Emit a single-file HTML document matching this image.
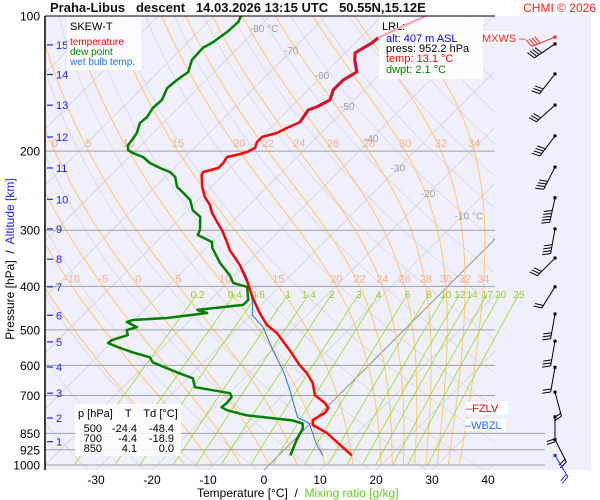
<!DOCTYPE html>
<html><head><meta charset="utf-8"><style>
body{margin:0;background:#fff;width:600px;height:500px;overflow:hidden;font-family:"Liberation Sans",sans-serif}
svg{display:block}
</style></head><body>
<svg id="chart" width="600" height="500" viewBox="0 0 600 500" xmlns="http://www.w3.org/2000/svg" font-family="Liberation Sans, sans-serif">
<defs>
<clipPath id="cp"><rect x="45" y="16" width="450" height="454"/></clipPath>
<clipPath id="cpw"><rect x="45" y="16" width="500" height="454"/></clipPath>
</defs>
<rect x="45" y="16" width="546" height="454" fill="#f0f0fc"/>
<g id="bg"></g>
<g id="labels"></g>
<g>
<rect x="67" y="17" width="74" height="53" fill="#fff" opacity="0.85"/>
<text x="70" y="30" font-size="11" fill="#000">SKEW-T</text>
<text x="70" y="45" font-size="10" fill="#ff0000">temperature</text>
<text x="70" y="55" font-size="10" fill="#008000">dew point</text>
<text x="70" y="65" font-size="10" fill="#2070ff">wet bulb temp.</text>
</g>
<g>
<rect x="379" y="17" width="104" height="62" fill="#fff" opacity="0.9"/>
<text x="382" y="30" font-size="11" fill="#000">LRL:</text>
<text x="386" y="42" font-size="11" fill="#0000ff">alt: 407 m ASL</text>
<text x="386" y="52" font-size="11" fill="#000">press: 952.2 hPa</text>
<text x="386" y="62" font-size="11" fill="#ff0000">temp: 13.1 °C</text>
<text x="386" y="73" font-size="11" fill="#008000">dwpt: 2.1 °C</text>
</g>
<g><rect x="481" y="31" width="33" height="12" fill="#fff"/><text x="482" y="42" font-size="11" fill="#ff2020">MXWS –</text></g>
<g><rect x="466" y="402" width="42" height="13" fill="#fff"/><text x="466" y="412" font-size="11" fill="#ff0000">–FZLV</text></g>
<g><rect x="465" y="419" width="41" height="12" fill="#fff"/><text x="465" y="429" font-size="11" fill="#2070ff">–WBZL</text></g>
<g font-size="11" fill="#000">
<rect x="75" y="404" width="106" height="52" fill="#fff" opacity="0.85"/>
<text x="78" y="417" xml:space="preserve">p [hPa]    T    Td [°C]</text>
<text x="102" y="432" text-anchor="end">500</text><text x="137" y="432" text-anchor="end">-24.4</text><text x="174" y="432" text-anchor="end">-48.4</text>
<text x="102" y="442" text-anchor="end">700</text><text x="137" y="442" text-anchor="end">-4.4</text><text x="174" y="442" text-anchor="end">-18.9</text>
<text x="102" y="452" text-anchor="end">850</text><text x="137" y="452" text-anchor="end">4.1</text><text x="174" y="452" text-anchor="end">0.0</text>
</g>
<g id="series"></g>
<g id="barbs"></g>
<line x1="45" y1="16" x2="495" y2="16" stroke="#000" stroke-width="1"/>
<line x1="45" y1="16" x2="45" y2="470" stroke="#000" stroke-width="1.5"/>
<text x="50" y="12" font-size="13" font-weight="bold" fill="#111" xml:space="preserve">Praha-Libus   descent   14.03.2026 13:15 UTC   50.55N,15.12E</text>
<text x="596" y="12" font-size="12" fill="#ff2020" text-anchor="end">CHMI © 2026</text>
<text transform="translate(14,259) rotate(-90)" font-size="12" text-anchor="middle" xml:space="preserve"><tspan fill="#000">Pressure [hPa]  /  </tspan><tspan fill="#2020ff">Altitude [km]</tspan></text>
<text x="197" y="497" font-size="12" xml:space="preserve"><tspan fill="#000">Temperature [°C]  /  </tspan><tspan fill="#66cc22">Mixing ratio [g/kg]</tspan></text>
</svg>
<script>
const pressTicks=[100,200,300,400,500,600,700,850,925,1000];
const tempTicks=[-30,-20,-10,0,10,20,30,40];
const kmTicks=[1,2,3,4,5,6,7,8,9,10,11,12,13,14,15];
const kmPress=[887,786,692,605,532,464,401,348,298,256,218,186,158,135,116];
const isoT=[-110,-100,-90,-80,-70,-60,-50,-40,-30,-20,-10,0,10,20,30,40];
const isoLabels=[-80,-70,-60,-50,-40,-30,-20,-10];
const isoLabelP=[106.4,119.1,135.5,158.6,186.9,217.4,248.1,278.0];
const thetaK=[230,240,250,260,270,280,290,300,310,320,330,340,350,360,370,380,390,400,410,420,430,440,450,460,470,480,490,500];
const thetaW=[-15,-10,-5,0,5,10,15,20,22,24,26,28,30,32,34];
const thetaW200=[0,5,10,15,20,22,24,26,28,30,32,34];
const thetaW400=[-10,-5,0,5,10,15,20,22,24,26,28,30,32,34];
const mixR=[0.2,0.4,0.6,1,1.4,2,3,4,6,8,10,12,14,17,20,25];
const tP=[100,103.7,111.9,114.9,119.1,120.9,125.3,133.3,138.9,146.1,153.8,159.4,161.9,172.3,177.6,182.2,185.9,190.8,196.8,200.9,203.0,206.1,212.5,218.0,222.5,226.0,240.2,253.0,263.5,274.4,287.4,299.5,320.2,332.1,358.7,393.1,423.1,458.7,487.6,508.6,555.2,599.8,624.7,657.2,698.6,727.5,746.3,765.6,794.0,814.5,848.4,952.2];
const tT=[-52.1,-53.8,-56.8,-57.0,-57.9,-58.2,-57.0,-54.5,-55.5,-55.5,-54.3,-55.4,-56.4,-55.7,-57.0,-57.9,-59.8,-59.8,-59.1,-59.8,-60.7,-62.5,-62.1,-62.1,-64.1,-63.8,-61.6,-59.3,-57.0,-55.2,-52.7,-50.4,-47.1,-45.4,-40.9,-36.3,-32.9,-28.8,-25.4,-22.1,-16.8,-12.3,-9.6,-6.8,-4.3,-1.1,0.4,0.7,-0.2,0.7,4.6,13.1];
const dP=[100,103.1,108.5,114.3,117.8,125.3,133.3,138.9,144.7,153.8,160.3,167.9,173.2,182.2,188.9,193.9,198.9,202.0,206.1,212.5,218.0,222.5,228.2,240.2,247.7,256.9,270.8,280.1,299.5,307.5,318.6,328.4,354.9,377.9,393.1,401.1,428.8,440.0,451.5,458.7,470.6,475.5,480.4,493.0,500.7,513.8,527.2,535.3,546.5,560.9,575.6,590.6,621.5,640.9,671.0,691.8,706.1,728.6,743.4,755.0,774.9,795.6,808.1,829.0,881.6,952.2];
const dT=[-85.2,-84.6,-84.8,-85.5,-86.3,-86.1,-84.6,-85.2,-85.5,-84.3,-84.5,-83.9,-84.1,-82.9,-82.5,-82.3,-81.4,-80.0,-77.5,-75.2,-72.5,-70.0,-68.2,-66.1,-63.9,-61.4,-59.1,-56.6,-54.3,-53.8,-50.0,-48.9,-44.8,-40.9,-38.9,-35.7,-33.2,-33.2,-40.5,-38.2,-44.5,-50.2,-50.9,-48.2,-49.5,-48.4,-50.4,-50.5,-48.0,-44.5,-40.5,-39.1,-33.0,-29.1,-27.1,-19.8,-18.8,-18.6,-18.8,-17.3,-12.9,-3.8,-1.4,-0.5,0.5,2.1];
const wP=[364.2,381.6,436.2,463.4,493.0,555.2,621.5,681.8,783.3,808.1,895.9,952.2];
const wT=[-40,-37.5,-31.8,-29.8,-25.7,-19.8,-13.9,-9.6,-3.4,-0.2,4.6,7.9];
const windP=[111.4,115.4,134.6,157.9,185,217,254,298,346,401,461,530,606,688,781,878,952];
const windDir=[248,236,218,228,217,207,192,190,225,212,190,190,190,165,180,153,149];
const windSpd=[40,40,30,30,40,40,50,40,30,20,30,30,20,20,20,20,20];

const NS='http://www.w3.org/2000/svg';
function yP(p){return 16+195*Math.log(p/100);}
function xT(t,p){return 264+5.6*t+(470-yP(p));}
function mk(tag,attrs,parent){const e=document.createElementNS(NS,tag);for(const k in attrs)e.setAttribute(k,attrs[k]);parent.appendChild(e);return e;}
const bg=document.getElementById('bg'),ser=document.getElementById('series'),lab=document.getElementById('labels'),bb=document.getElementById('barbs');
const gc=mk('g',{'clip-path':'url(#cp)'},bg);
const gw=mk('g',{'clip-path':'url(#cpw)'},bg);
function pathFrom(pts){return 'M'+pts.map(q=>q[0].toFixed(1)+','+q[1].toFixed(1)).join('L');}
thetaK.forEach(th=>{const pts=[];for(let p=100;p<=1050;p+=10){const t=th*Math.pow(p/1000,0.2857)-273.15;pts.push([xT(t,p),yP(p)]);}
 const e=mk('path',{d:pathFrom(pts),fill:'none',stroke:'#dcdce4','stroke-width':1},gc);
 
 });
isoT.forEach(t=>{const e=mk('line',{x1:xT(t,1100),y1:yP(1100),x2:xT(t,90),y2:yP(90),stroke:t===0?'#909090':'#d8d8e0','stroke-width':1},gc);
 
 });
function es(tc){return 6.112*Math.exp(17.67*tc/(tc+243.5));}
function dTdp(T,p){const tc=T-273.15;const e=es(tc);const rs=0.622*e/(p-e);const Rd=287,cp=1005,L=2.5e6;return (1/p)*(Rd*T+L*rs)/(cp+L*L*rs*0.622/(Rd*T*T));}
function moist(tw){let T=tw+273.15;const res={};for(let p=1000;p>=100;p-=2){res[p]=T;const k1=dTdp(T,p);const k2=dTdp(T-k1,p-2);T=T-(k1+k2);}
 return res;}
const moistCurves={};
thetaW.forEach(tw=>{const r=moist(tw);moistCurves[tw]=r;const pts=[];for(let p=100;p<=1000;p+=2)pts.push([xT(r[p]-273.15,p),yP(p)]);
 const e=mk('path',{d:pathFrom(pts),fill:'none',stroke:'#ffc870','stroke-width':1},gc);
 
 });
mixR.forEach(w=>{const pts=[];for(let p=416;p<=1000;p+=8){const ev=w*p/(622+w);const l=Math.log(ev/6.112);const t=243.5*l/(17.67-l);pts.push([xT(t,p),yP(p)]);}
 const e=mk('path',{d:pathFrom(pts),fill:'none',stroke:'#99dd22','stroke-width':0.8},gw);
 
 
 const t=mk('text',{x:pts[0][0],y:pts[0][1]+4,'font-size':10,fill:'#99cc33','text-anchor':'middle'},lab);t.textContent=String(w);
 
 });
pressTicks.forEach(p=>{const y=yP(p);const wide=p>=850;
 const e=mk('line',{x1:45,y1:y,x2:wide?545:495,y2:y,stroke:'#a0a0a0','stroke-width':1},bg);
 
 
 const t=mk('text',{x:40,y:y+4.5,'font-size':12,fill:'#000','text-anchor':'end'},lab);t.textContent=String(p);
 
 });
function mlab(vals,p){vals.forEach(tw=>{const r=moistCurves[tw];if(!r)return;const t=mk('text',{x:xT(r[p]-273.15,p),y:yP(p)-4,'font-size':11,fill:'#f4b090','text-anchor':'middle'},lab);t.textContent=String(tw);
 
 });}
mlab(thetaW200,200);mlab(thetaW400,400);
isoLabels.forEach((t,i)=>{const p=isoLabelP[i];const tx=mk('text',{x:xT(t,p)-8,y:yP(p)+4,'font-size':10,fill:'#a0a0a0'},lab);tx.textContent=(t===-80||t===-10)?t+' °C':String(t);
 
 });
tempTicks.forEach(t=>{const tx=mk('text',{x:264+5.6*t,y:484,'font-size':12,fill:'#000','text-anchor':'middle'},lab);tx.textContent=String(t);
 
 });
kmTicks.forEach((k,i)=>{const y=yP(kmPress[i]);
 const l=mk('line',{x1:47,y1:y,x2:53,y2:y,stroke:'#2020ff','stroke-width':1.2},lab);
 
 
 const t=mk('text',{x:56,y:y+4,'font-size':11,fill:'#2020ff'},lab);t.textContent=String(k);
 
 });
function line(P,T,color,w,name){const pts=P.map((p,i)=>[xT(T[i],p),yP(p)]);const e=mk('path',{d:pathFrom(pts),fill:'none',stroke:color,'stroke-width':w,'stroke-linejoin':'round'},ser);
 
 return e;}
line(tP.slice(2,14),tT.slice(2,14),'#2060ff',3.2,'wet-bulb-upper-line');
line(wP,wT,'#2070ff',1,'wet-bulb-line');
line(dP,dT,'#008000',2.5,'dew-point-line');
line(tP.slice(0,3),tT.slice(0,3),'#ffa0b0',2.2,'temperature-upper-line');
line(tP.slice(2),tT.slice(2),'#ff0000',2.5,'temperature-line');
windP.forEach((p,i)=>{const x0=555,y0=yP(p);const d=windDir[i]*Math.PI/180;const ux=Math.sin(d),uy=-Math.cos(d);const L=25;
 const col=i===0?'#ff2020':(i===windP.length-1?'#2020ff':'#000');
 const g=mk('g',{},bb);
 
 
 const ex=x0+ux*L,ey=y0+uy*L;
 mk('line',{x1:x0,y1:y0,x2:ex,y2:ey,stroke:col,'stroke-width':1},g);
 mk('rect',{x:x0-1.5,y:y0-1.5,width:3,height:3,fill:col},g);
 const n=Math.round(windSpd[i]/10);const bx=uy,by=-ux;
 for(let k=0;k<n;k++){const sx=ex-ux*k*3,sy=ey-uy*k*3;mk('line',{x1:sx,y1:sy,x2:sx+(-bx*0.9+ux*0.3)*9,y2:sy+(-by*0.9+uy*0.3)*9,stroke:col,'stroke-width':1},g);}
});
</script>
</body></html>
